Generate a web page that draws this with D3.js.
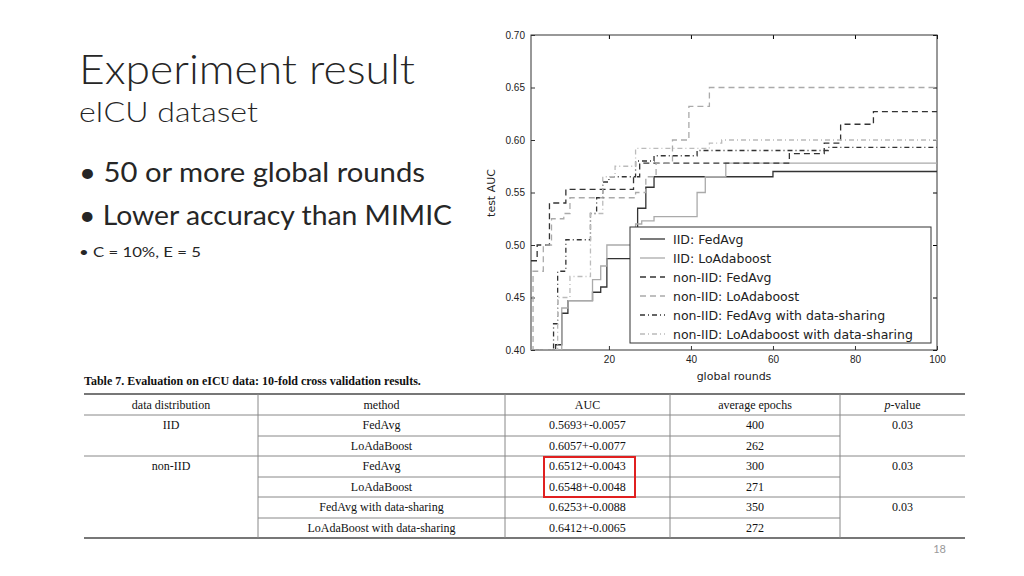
<!DOCTYPE html>
<html><head><meta charset="utf-8">
<script src="https://cdn.jsdelivr.net/npm/d3@7"></script>
<style>body{margin:0;background:#fff}svg{display:block}</style>
</head><body><svg id="s" width="1024" height="576"></svg>
<script>
const seriesNames=["IID: FedAvg","IID: LoAdaboost","non-IID: FedAvg","non-IID: LoAdaboost","non-IID: FedAvg with data-sharing","non-IID: LoAdaboost with data-sharing"];
const iidFedAvg=[[1,0.40],[7,0.405],[8.5,0.435],[10,0.447],[16,0.455],[18,0.46],[19.5,0.487],[26,0.50],[27,0.535],[29,0.555],[31,0.565],[60,0.57],[100,0.57]];
const iidLoAda=[[1,0.40],[8.5,0.44],[10,0.447],[16,0.467],[18,0.48],[19.5,0.50],[26.5,0.52],[28,0.523],[31,0.527],[41.5,0.55],[43.5,0.565],[48.5,0.578],[100,0.578]];
const nonFedAvg=[[1,0.485],[2.5,0.50],[5.5,0.54],[9.5,0.553],[26,0.565],[27.5,0.578],[64,0.587],[72.5,0.597],[76.5,0.615],[84.5,0.627],[100,0.627]];
const nonLoAda=[[1,0.40],[1.5,0.475],[4,0.50],[6,0.525],[9,0.53],[10.5,0.545],[26.5,0.55],[29,0.565],[31.5,0.578],[35.5,0.60],[39.5,0.632],[44.5,0.65],[100,0.65]];
const nonFedAvgDS=[[1,0.40],[6.5,0.425],[7.5,0.475],[9.5,0.505],[15.5,0.53],[17,0.545],[18.5,0.56],[20,0.565],[26.5,0.58],[31,0.585],[41.5,0.59],[73.5,0.593],[100,0.593]];
const nonLoAdaDS=[[1,0.40],[7.5,0.45],[10.5,0.47],[15.5,0.53],[18.5,0.565],[21.5,0.575],[26.5,0.592],[44.5,0.597],[47.5,0.60],[100,0.60]];
const allSeries=[iidFedAvg,iidLoAda,nonFedAvg,nonLoAda,nonFedAvgDS,nonLoAdaDS];
const xTicks=[20,40,60,80,100];
const yTicks=[0.40,0.45,0.50,0.55,0.60,0.65,0.70];
const tableHeader=["data distribution","method","AUC","average epochs","p-value"];
const tableDist=["IID","","non-IID","","",""];
const tableMethod=["FedAvg","LoAdaBoost","FedAvg","LoAdaBoost","FedAvg with data-sharing","LoAdaBoost with data-sharing"];
const tableAUC=["0.5693+-0.0057","0.6057+-0.0077","0.6512+-0.0043","0.6548+-0.0048","0.6253+-0.0088","0.6412+-0.0065"];
const tableEpochs=["400","262","300","271","350","272"];
const tableP=["0.03","","0.03","","0.03",""];
const bullets=["50 or more global rounds","Lower accuracy than MIMIC"];

const svg=d3.select("#s");
const F="Lato";
svg.append("text").attr("x",79).attr("y",84).attr("font-family",F).attr("font-weight",300).attr("font-size",42).attr("fill","#262626").attr("textLength",336).attr("lengthAdjust","spacingAndGlyphs").text("Experiment result");
svg.append("text").attr("x",79).attr("y",122).attr("font-family",F).attr("font-weight",300).attr("font-size",28).attr("fill","#262626").attr("textLength",179).attr("lengthAdjust","spacingAndGlyphs").text("eICU dataset");
const bw=[346,373];
bullets.forEach((b,i)=>{
  svg.append("text").attr("x",79).attr("y",182+i*43).attr("font-family",F).attr("font-size",27).attr("fill","#262626").attr("textLength",bw[i]).attr("lengthAdjust","spacingAndGlyphs").text("• "+b);
});
svg.append("text").attr("x",79).attr("y",257).attr("font-family",F).attr("font-size",14).attr("fill","#262626").attr("textLength",122).attr("lengthAdjust","spacingAndGlyphs").text("•  C = 10%, E = 5");
svg.append("text").attr("x",946).attr("y",553).attr("text-anchor","end").attr("font-family",F).attr("font-size",11).attr("fill","#999").text("18");

const x=d3.scaleLinear().domain([1,100]).range([531,937]);
const y=d3.scaleLinear().domain([0.40,0.70]).range([350,35]);
const g=svg.append("g").attr("font-family","DejaVu Sans");
svg.append("clipPath").attr("id","c").append("rect").attr("x",531).attr("y",35).attr("width",406).attr("height",315);
const ax=g.append("g").attr("transform","translate(0,350)").call(d3.axisBottom(x).tickValues(xTicks).tickSize(-4).tickPadding(6));
const ay=g.append("g").attr("transform","translate(531,0)").call(d3.axisLeft(y).tickValues(yTicks).tickFormat(d3.format(".2f")).tickSize(-4).tickPadding(6));
[ax,ay].forEach(a=>{a.selectAll("text").attr("font-size",10).attr("fill","#222");a.select(".domain").remove();a.selectAll("line").attr("stroke","#333");});
g.append("g").attr("transform","translate(0,35)").call(d3.axisTop(x).tickValues(xTicks).tickSize(-4).tickFormat("")).call(a=>a.select(".domain").remove());
g.append("g").attr("transform","translate(937,0)").call(d3.axisRight(y).tickValues(yTicks).tickSize(-4).tickFormat("")).call(a=>a.select(".domain").remove());
g.append("rect").attr("x",531).attr("y",35).attr("width",406).attr("height",315).attr("fill","none").attr("stroke","#333");
g.append("text").attr("x",734).attr("y",380).attr("text-anchor","middle").attr("font-size",11).attr("fill","#222").text("global rounds");
g.append("text").attr("transform","translate(495,193) rotate(-90)").attr("text-anchor","middle").attr("font-size",11).attr("fill","#222").text("test AUC");
const colors=["#333","#aaa","#333","#aaa","#333","#bbb"];
const dashes=[null,null,"6,4","6,4","5,3,1,3","5,3,1,3"];
const line=d3.line().x(d=>x(d[0])).y(d=>y(d[1])).curve(d3.curveStepAfter);
allSeries.forEach((s,i)=>{
  g.append("path").datum(s).attr("d",line).attr("fill","none").attr("stroke",colors[i]).attr("stroke-width",1.3).attr("stroke-dasharray",dashes[i]).attr("clip-path","url(#c)");
});
const lg=g.append("g");
lg.append("rect").attr("x",630).attr("y",227).attr("width",301).attr("height",116).attr("fill","#fff").attr("stroke","#333");
seriesNames.forEach((n,i)=>{
  const yy=239+i*19;
  lg.append("line").attr("x1",640).attr("x2",665).attr("y1",yy).attr("y2",yy).attr("stroke",colors[i]).attr("stroke-width",1.3).attr("stroke-dasharray",dashes[i]);
  lg.append("text").attr("x",673).attr("y",yy+4.5).attr("font-size",12.5).attr("fill","#222").text(n);
});

const tg=svg.append("g").attr("font-family","Liberation Serif").attr("font-size",12).attr("fill","#111");
tg.append("text").attr("x",84).attr("y",385).attr("font-weight","bold").attr("font-size",12).text("Table 7. Evaluation on eICU data: 10-fold cross validation results.");
const colX=[84,258,505,670,840,965];
const rowY=[394,415,436,456,477,497,518,538];
const mid=i=>(colX[i]+colX[i+1])/2;
const L=(x1,x2,yy,w,c)=>tg.append("line").attr("x1",x1).attr("x2",x2).attr("y1",yy).attr("y2",yy).attr("stroke",c||"#888").attr("stroke-width",w||1);
L(84,965,394,2,"#777");L(84,965,538,2,"#777");L(84,965,415);L(84,965,456);
L(258,840,436);L(258,840,477);L(258,965,497);L(258,840,518);
[258,505,670,840].forEach(xx=>tg.append("line").attr("x1",xx).attr("x2",xx).attr("y1",394).attr("y2",538).attr("stroke","#888"));
tableHeader.forEach((h,i)=>{
  const t=tg.append("text").attr("x",mid(i)).attr("y",409).attr("text-anchor","middle");
  if(h==="p-value"){t.append("tspan").attr("font-style","italic").text("p");t.append("tspan").text("-value");}else t.text(h);
});
const cols=[tableDist,tableMethod,tableAUC,tableEpochs,tableP];
cols.forEach((col,ci)=>col.forEach((v,ri)=>{
  if(!v)return;
  tg.append("text").attr("x",mid(ci)).attr("y",rowY[ri+1]+14).attr("text-anchor","middle").text(v);
}));
svg.append("rect").attr("x",544).attr("y",457).attr("width",91).attr("height",40).attr("fill","none").attr("stroke","#e02020").attr("stroke-width",2);
</script></body></html>
